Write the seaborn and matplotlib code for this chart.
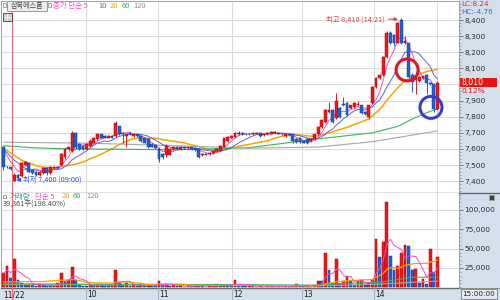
import numpy as np
import pandas as pd
import matplotlib
matplotlib.use("Agg")
import matplotlib.pyplot as plt
from matplotlib.patches import Ellipse, Rectangle
from matplotlib.lines import Line2D
from matplotlib.ticker import FuncFormatter, MultipleLocator
from matplotlib import font_manager as fm
import seaborn as sns

# ---------------- data (3-minute candles, index 0 = 09:00) ----------------
candle_idx = list(range(-3, 118))
opens = [7610, 7490, 7485,
         7400, 7440, 7430, 7500, 7510, 7470, 7460, 7440, 7450, 7480,
         7450, 7480, 7490, 7500, 7550, 7600, 7590, 7700, 7630, 7620,
         7600, 7620, 7640, 7660, 7690, 7680, 7670, 7680, 7680, 7740,
         7700, 7680, 7700, 7680, 7690, 7680, 7665, 7660, 7630, 7625,
         7600, 7570, 7560, 7565, 7600, 7615, 7600, 7610, 7605, 7610,
         7605, 7600, 7560, 7570, 7570, 7575, 7585, 7590, 7615, 7650,
         7670, 7675, 7690, 7700, 7695, 7695, 7690, 7695, 7700, 7685,
         7690, 7695, 7700, 7700, 7695, 7680, 7690, 7690, 7660, 7665,
         7650, 7660, 7650, 7660, 7690, 7735, 7765, 7830, 7840, 7790,
         7855, 7880, 7885, 7855, 7860, 7870, 7870, 7830, 7800, 7885,
         7985, 8040, 8060, 8170, 8320, 8310, 8260, 8400, 8255, 8255,
         8060, 8030, 8020, 8040, 8060, 8010, 8000, 7850]
highs = [7620, 7495, 7490,
         7450, 7445, 7520, 7525, 7515, 7475, 7465, 7465, 7490, 7490,
         7495, 7495, 7495, 7575, 7605, 7615, 7710, 7705, 7635, 7625,
         7635, 7660, 7675, 7700, 7695, 7685, 7685, 7685, 7775, 7745,
         7705, 7700, 7705, 7700, 7695, 7685, 7670, 7665, 7635, 7630,
         7610, 7575, 7630, 7605, 7620, 7620, 7620, 7615, 7615, 7615,
         7610, 7605, 7575, 7575, 7580, 7590, 7605, 7625, 7670, 7680,
         7685, 7705, 7710, 7705, 7700, 7700, 7705, 7705, 7705, 7695,
         7705, 7710, 7710, 7705, 7700, 7695, 7695, 7695, 7665, 7670,
         7655, 7665, 7665, 7695, 7740, 7785, 7845, 7890, 7850, 7945,
         7860, 7920, 7890, 7875, 7890, 7900, 7875, 7835, 7875, 7990,
         8045, 8065, 8175, 8330, 8330, 8315, 8390, 8410, 8300, 8260,
         8070, 8065, 8050, 8055, 8065, 8015, 8005, 8020]
lows = [7470, 7480, 7470,
        7400, 7410, 7425, 7495, 7455, 7445, 7435, 7430, 7445, 7440,
        7445, 7475, 7475, 7495, 7540, 7590, 7580, 7600, 7595, 7595,
        7595, 7615, 7635, 7655, 7665, 7665, 7665, 7665, 7675, 7685,
        7640, 7610, 7685, 7675, 7675, 7645, 7635, 7605, 7610, 7600,
        7520, 7540, 7550, 7560, 7595, 7595, 7595, 7600, 7600, 7595,
        7590, 7545, 7555, 7560, 7565, 7570, 7580, 7585, 7610, 7645,
        7665, 7670, 7685, 7685, 7685, 7685, 7685, 7690, 7675, 7680,
        7685, 7690, 7695, 7690, 7685, 7675, 7680, 7635, 7640, 7640,
        7635, 7630, 7645, 7655, 7685, 7730, 7760, 7825, 7760, 7785,
        7795, 7865, 7805, 7850, 7855, 7865, 7815, 7810, 7785, 7880,
        7980, 8035, 8055, 8165, 8250, 8240, 8255, 8250, 8250, 8040,
        7955, 7940, 8015, 8035, 7940, 7995, 7830, 7840]
closes = [7490, 7485, 7475,
          7440, 7420, 7510, 7520, 7460, 7450, 7440, 7460, 7480, 7450,
          7490, 7490, 7480, 7570, 7600, 7610, 7700, 7610, 7600, 7600,
          7630, 7650, 7670, 7690, 7670, 7670, 7680, 7670, 7760, 7690,
          7690, 7690, 7690, 7695, 7680, 7650, 7640, 7610, 7615, 7605,
          7540, 7550, 7620, 7600, 7615, 7600, 7615, 7605, 7610, 7600,
          7595, 7550, 7570, 7565, 7575, 7585, 7600, 7620, 7665, 7675,
          7680, 7700, 7700, 7690, 7690, 7690, 7700, 7700, 7680, 7690,
          7700, 7705, 7705, 7695, 7690, 7690, 7685, 7650, 7645, 7645,
          7640, 7635, 7660, 7690, 7735, 7780, 7840, 7840, 7765, 7900,
          7800, 7870, 7810, 7870, 7885, 7880, 7820, 7815, 7870, 7985,
          8040, 8060, 8170, 8320, 8255, 8260, 8380, 8255, 8270, 8045,
          8015, 8045, 8045, 8050, 8010, 8000, 7850, 8010]
volumes = [18000, 27000, 12000,
           37000, 9000, 6000, 3500, 4500, 2500, 2000, 4000, 3000, 2000,
           1500, 2000, 5000, 19000, 8000, 10000, 26000, 9000, 3000, 2000,
           1500, 3000, 2000, 4000, 2500, 2000, 1500, 3000, 22000, 6000,
           3000, 5000, 2000, 2500, 1500, 3000, 2500, 3500, 2000, 1500,
           8000, 3000, 4000, 2000, 2500, 1500, 2000, 1000, 1500, 1200,
           2000, 3000, 1500, 1000, 1200, 1500, 4000, 2500, 3500, 2000,
           1500, 9000, 3000, 2000, 1500, 2600, 1200, 1000, 1500, 1000,
           2000, 1200, 1000, 1500, 1000, 1200, 1000, 2000, 4000, 1500,
           1200, 1500, 1000, 3000, 8000, 8000, 45000, 23000, 5000, 36000,
           4000, 8000, 14000, 8000, 3000, 8000, 9000, 4000, 5500, 9000,
           63000, 39000, 58000, 110000, 41000, 22000, 27000, 45000, 55000, 53000,
           22000, 24000, 6000, 11000, 4000, 50000, 19839, 39361]

ma5_head_idx, ma5_head_val = [-3, -1], [7595, 7520]
ma10_head_idx, ma10_head_val = [-3, 0, 3], [7600, 7530, 7480]
ma20_head_idx, ma20_head_val = [-3, 2, 7, 11, 14], [7605, 7530, 7490, 7480, 7495]
ma60_idx = [-3, 5, 15, 30, 45, 65, 83, 99, 106, 110, 114, 117]
ma60_val = [7620, 7608, 7600, 7598, 7595, 7608, 7660, 7700, 7740, 7785, 7825, 7850]
ma120_idx = [-3, 20, 42, 65, 84, 99, 117]
ma120_val = [7642, 7636, 7622, 7605, 7612, 7645, 7712]
vma20_head_idx, vma20_head_val = [-3, 8], [7000, 7500]
vma60_idx = [-3, 20, 60, 84, 91, 101, 106, 110, 117]
vma60_val = [4500, 4000, 3500, 2500, 5000, 6500, 10000, 13000, 13000]
vma120_idx = [-3, 60, 90, 100, 110, 117]
vma120_val = [3500, 3000, 2500, 4000, 6500, 8000]

hour_grid_idx = [19.8, 39.7, 60.2, 79.5, 99.4]
hour_labels = ["10", "11", "12", "13", "14"]
date_label = "11/22"
now_grid_idx = 116.9
day_sep_idx = -0.64
price_ticks = list(range(7400, 8401, 100))
vol_ticks = [25000, 50000, 75000, 100000]
stock_name = "삼목에스폼"
day_change = "0.12%"

# ---------------- style ----------------
sns.set_style("white")
plt.rcParams['font.family'] = ['Noto Sans CJK KR', 'DejaVu Sans']
_names = {f.name for f in fm.fontManager.ttflist}
AXFONT = 'Liberation Sans Narrow' if 'Liberation Sans Narrow' in _names else 'DejaVu Sans'

RED, RED_E = '#ea1a1a', '#b40000'
BLUE, BLUE_E = '#1e62d8', '#0b3a9c'
C5, C10, C20, C60, C120 = '#ee4fc9', '#5668da', '#f5a600', '#3db35a', '#a8a8a8'
GRID = '#dcdcdc'
PANEL_BG = '#d4dfec'

W, H = 500, 300
fig = plt.figure(figsize=(W / 100, H / 100), dpi=100)
fig.patch.set_facecolor('white')


def frect(x0, y0, x1, y1):
    return [x0 / W, 1 - y1 / H, (x1 - x0) / W, (y1 - y0) / H]


def fpt(x, y):
    return (x / W, 1 - y / H)


def ftext(x, y, s, color, size, ha='left', **kw):
    fig.text(x / W, 1 - y / H, s, color=color, fontsize=size, ha=ha, va='center', **kw)


def frect_patch(x0, y0, x1, y1, **kw):
    fig.add_artist(Rectangle(fpt(x0, y1), (x1 - x0) / W, (y1 - y0) / H,
                             transform=fig.transFigure, **kw))


frect_patch(459, 0, 500, 300, fc=PANEL_BG, ec='none', zorder=0)
frect_patch(0, 288, 459, 300, fc=PANEL_BG, ec='none', zorder=0)

# pixel calibration of the reference
X0, DX = 14.3, 3.617          # px of candle 0, px per candle
Y8400, DY = 20.0, 0.1612      # px of 8,400, px per won
V0, DV = 287.3, 19.33 / 25000  # px of zero volume, px per share

ax_p = fig.add_axes(frect(1, 1, 459, 193))
ax_v = fig.add_axes(frect(1, 193, 459, 288))
ax_d = fig.add_axes(frect(1, 288, 459, 300))
xlim = ((1 - X0) / DX, (459 - X0) / DX)
for a in (ax_p, ax_v, ax_d):
    a.set_xlim(*xlim)
ax_p.set_ylim(8400 - (193 - Y8400) / DY, 8400 + (Y8400 - 1) / DY)
ax_v.set_ylim(-(288 - V0) / DV, (V0 - 193) / DV)

df = pd.DataFrame({'idx': candle_idx, 'open': opens, 'high': highs, 'low': lows,
                   'close': closes, 'vol': volumes})
x = df['idx'].to_numpy()
o, c = df['open'].to_numpy(), df['close'].to_numpy()
up = c > o
ccol = np.where(up, RED, BLUE)
cedge = np.where(up, RED_E, BLUE_E)

# grid
for a in (ax_p, ax_v):
    for g in hour_grid_idx + [now_grid_idx]:
        a.axvline(g, color=GRID, lw=0.8, zorder=0)
for p in price_ticks:
    ax_p.axhline(p, color=GRID, lw=0.8, zorder=0)
for v in vol_ticks:
    ax_v.axhline(v, color=GRID, lw=0.8, zorder=0)

# moving averages (price)


def ma_line(w, head_idx, head_val):
    r = df['close'].rolling(w, min_periods=w).mean()
    ok = r.notna()
    xs = list(head_idx) + list(df['idx'][ok])
    ys = list(head_val) + list(r[ok])
    return xs, ys


for (xs, ys), col, lw in [(ma_line(20, ma20_head_idx, ma20_head_val), C20, 1.1),
                          ((ma60_idx, ma60_val), C60, 0.8),
                          ((ma120_idx, ma120_val), C120, 0.8),
                          (ma_line(10, ma10_head_idx, ma10_head_val), C10, 0.7),
                          (ma_line(5, ma5_head_idx, ma5_head_val), C5, 0.7)]:
    sns.lineplot(x=xs, y=ys, ax=ax_p, color=col, linewidth=lw, estimator=None,
                 sort=False, zorder=2, legend=False)

# candles
ax_p.vlines(x, df['low'], df['high'], colors=ccol, lw=0.7, zorder=3)
body_lo = np.minimum(o, c)
body_h = np.maximum(np.abs(c - o), 5)
ax_p.bar(x, body_h, bottom=body_lo, width=0.78, color=ccol, edgecolor=cedge,
         linewidth=0.35, zorder=4)

# day separator
ax_p.axvline(day_sep_idx, ymin=0, ymax=(193 - 12) / 192, color='#ee6a6a', lw=0.8, zorder=5)
ax_v.axvline(day_sep_idx, color='#ee6a6a', lw=0.8, zorder=5)
ax_d.axvline(day_sep_idx, color='#ee6a6a', lw=0.8, zorder=5)

# high / low annotations
i_hi = int(df['high'].idxmax())
hi = int(df['high'].max())
hi_time = f"{9 + (3 * int(x[i_hi])) // 60}:{(3 * int(x[i_hi])) % 60:02d}"
day = df[df['idx'] >= 0]
i_lo = int(day['low'].idxmin())
lo = int(day['low'].min())
lo_time = f"{9 + (3 * int(x[i_lo])) // 60:02d}:{(3 * int(x[i_lo])) % 60:02d}"
TXT_RED, TXT_BLUE = '#f03848', '#2f4fe0'
ax_p.annotate(f"최고 {hi:,} ({hi_time})", xy=(x[i_hi] - 0.9, hi - 5),
              xytext=(x[i_hi] - 4.6, hi - 5), ha='right', va='center',
              fontsize=5.3, color=TXT_RED, zorder=7,
              arrowprops=dict(arrowstyle='-|>', color=TXT_RED, lw=0.8,
                              mutation_scale=5, shrinkA=0.5, shrinkB=0))
ax_p.annotate(f"최저 {lo:,} ({lo_time})", xy=(x[i_lo] + 0.6, lo + 8),
              xytext=(x[i_lo] + 2.4, lo + 8), ha='left', va='center',
              fontsize=5.3, color=TXT_BLUE, zorder=7,
              arrowprops=dict(arrowstyle='-|>', color=TXT_BLUE, lw=0.8,
                              mutation_scale=5, shrinkA=0.5, shrinkB=0))

# highlight circles
r_px = 11.0
for (cx, cy), col in [((108.6, 8090), '#e0142a'), ((115.2, 7858), '#3b3fc8')]:
    ax_p.add_patch(Ellipse((cx, cy), 2 * r_px / DX, 2 * r_px / DY, fill=False,
                           ec=col, lw=2.2, zorder=6))

# volume
vol = df['vol'].to_numpy()
vup = np.r_[True, vol[1:] > vol[:-1]]
vcol = np.where(vup, RED, BLUE)
vedge = np.where(vup, RED_E, BLUE_E)
ax_v.bar(x, vol, width=0.78, color=vcol, edgecolor=vedge, linewidth=0.35, zorder=3)
vma5 = df['vol'].rolling(5, min_periods=1).mean()
r20 = df['vol'].rolling(20, min_periods=20).mean()
ok = r20.notna()
vma20_x = vma20_head_idx + list(df['idx'][ok])
vma20_y = vma20_head_val + list(r20[ok])
for xs, ys, col, lw in [(vma120_idx, vma120_val, C120, 0.8),
                        (vma60_idx, vma60_val, C60, 0.8),
                        (vma20_x, vma20_y, C20, 0.9),
                        (list(df['idx']), list(vma5), C5, 0.7)]:
    sns.lineplot(x=xs, y=ys, ax=ax_v, color=col, linewidth=lw, estimator=None,
                 sort=False, zorder=4, legend=False)

# axes cosmetics
last = closes[-1]
price_label_ticks = [p for p in price_ticks if abs(p - last) > 40]  # box covers the rest
fmt = FuncFormatter(lambda v, p: f"{v:,.0f}")
for a, ticks in ((ax_p, price_label_ticks), (ax_v, vol_ticks)):
    a.yaxis.tick_right()
    a.set_yticks(ticks)
    a.yaxis.set_major_formatter(fmt)
    a.tick_params(axis='y', which='major', direction='out', length=3, width=0.5,
                  colors='#505050', labelcolor='#303030', labelsize=5.4, pad=1,
                  labelfontfamily=AXFONT)
    a.tick_params(axis='x', bottom=False, labelbottom=False)
    a.set_xlabel('')
    a.set_ylabel('')
    for s in ('left', 'right', 'top'):
        a.spines[s].set_color('#a0a0a0')
        a.spines[s].set_linewidth(0.7)
    a.spines['bottom'].set_color('#6a6a6a')
    a.spines['bottom'].set_linewidth(1.0)
ax_p.yaxis.set_minor_locator(MultipleLocator(20))
ax_p.tick_params(axis='y', which='minor', direction='out', length=1.2, width=0.4, colors='#707070')
ax_v.yaxis.set_minor_locator(MultipleLocator(5000))
ax_v.tick_params(axis='y', which='minor', direction='out', length=1.2, width=0.4, colors='#707070')
ax_v.spines['top'].set_visible(False)

# date strip
ax_d.set_facecolor('none')
ax_d.set_ylim(0, 1)
for s in ax_d.spines.values():
    s.set_visible(False)
ax_d.set_xticks([])
ax_d.set_yticks([])
for g, lab in zip(hour_grid_idx, hour_labels):
    ax_d.axvline(g, color='#9fb0c4', lw=0.7)
    ax_d.text(g + 0.35, 0.45, lab, fontsize=5.5, color='#202020', ha='left', va='center',
              family=AXFONT)
ax_d.text(xlim[0] + 0.6, 0.45, date_label, fontsize=5.5, color='#202020', ha='left',
          va='center', family=AXFONT)

# separators into right panel
fig.add_artist(Line2D([459 / W, 1], [1 - 193 / H] * 2, transform=fig.transFigure,
                      color='#6a6a6a', lw=1.0))
fig.add_artist(Line2D([459 / W, 1], [1 - 288 / H] * 2, transform=fig.transFigure,
                      color='#8a8a8a', lw=0.7))

# header (price)
frect_patch(3, 3.5, 6, 6.5, fc='white', ec='#808080', lw=0.5, zorder=5)
frect_patch(7, 1.5, 47, 10.5, fc='#ececec', ec='#8c8c8c', lw=0.6, zorder=5)
ftext(27, 6, stock_name, '#4a4a4a', 5.1, ha='center', zorder=6)
frect_patch(48, 3.5, 51, 6.5, fc='white', ec='#808080', lw=0.5, zorder=5)
for xp, s, col in [(53, "종가 단순 5", C5), (98, "10", C10), (110, "20", C20),
                   (122, "60", C60), (133, "120", '#8c8c8c')]:
    ftext(xp, 6, s, col, 5.4, zorder=6)
frect_patch(3, 12.5, 11.5, 20.5, fc='#d0d0d0', ec='#404040', lw=0.6, zorder=5)
fig.add_artist(Line2D([7.25 / W] * 2, [1 - 13.5 / H, 1 - 19.5 / H], transform=fig.transFigure,
                      color='white', lw=0.6, zorder=6))
fig.add_artist(Line2D([4 / W, 10.5 / W], [1 - 16.5 / H] * 2, transform=fig.transFigure,
                      color='white', lw=0.6, zorder=6))

# header (volume)
frect_patch(3, 194.5, 6, 197.5, fc='white', ec='#808080', lw=0.5, zorder=5)
for xp, s, col in [(10, "거래량", '#32a2b4'), (35, "단순 5", C5), (62, "20", C20),
                   (73, "60", C60), (86, "120", '#8c8c8c')]:
    ftext(xp, 196.5, s, col, 5.4, zorder=6)
ftext(3, 204.5, f"{volumes[-1]:,}주({volumes[-1] / volumes[-2] * 100:.2f}%)", '#4a4a4a', 5.3, zorder=6)

# right panel texts
ftext(461, 4.5, f"LC:{(last - lo) / lo * 100:.2f}", '#e03030', 5.2, family=AXFONT)
ftext(461, 12, f"HC:{(last - hi) / hi * 100:.2f}", '#4a64d4', 5.2, family=AXFONT)
frect_patch(460, 77.5, 497, 87, fc='#e81414', ec='none', zorder=5)
ftext(462, 82.3, f"{last:,}", 'white', 5.6, family=AXFONT, zorder=6)
ftext(462, 91.5, day_change, '#e81414', 5.4, family=AXFONT, zorder=6)
frect_patch(489, 195, 494, 200, fc='#404040', ec='#a0a0a0', lw=0.5, zorder=5)
frect_patch(461, 289, 497, 299, fc='#e4ebf3', ec='#7a7a7a', lw=0.6, zorder=5)
ftext(479, 294, "15:00:00", '#202020', 5.2, ha='center', family=AXFONT, zorder=6)

fig.savefig("out.png", dpi=100, facecolor=fig.get_facecolor())
